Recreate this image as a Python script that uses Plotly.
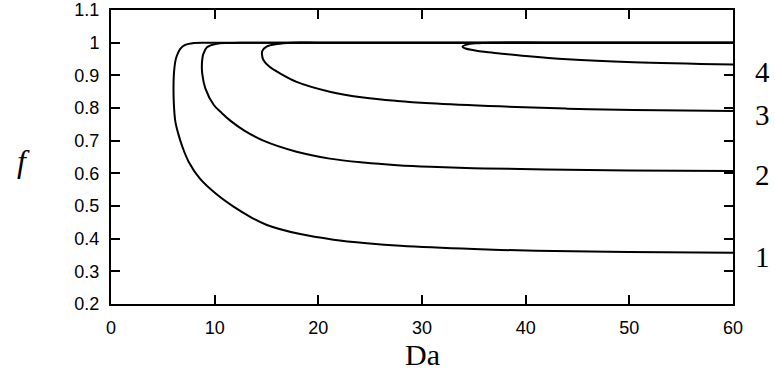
import plotly.graph_objects as go

# Curve 1
da_1 = [60, 50, 40, 30, 20, 14, 11, 9.3, 8.0, 7.16, 6.68, 6.35, 6.2, 6.06, 6.03, 6.06, 6.2, 6.5, 6.9, 7.5, 8.6, 10.22, 11.82, 13.43, 15.04, 18.25, 21.46, 24.68, 27.9, 35, 41, 50, 60]
f_1 = [1.0, 1.0, 1.0, 1.0, 1.0, 1.0, 1.0, 1.0, 0.999, 0.993, 0.981, 0.96, 0.942, 0.9, 0.855, 0.815, 0.76, 0.72, 0.68, 0.635, 0.583, 0.535, 0.498, 0.467, 0.442, 0.414, 0.397, 0.386, 0.378, 0.368, 0.363, 0.3595, 0.357]

# Curve 2
da_2 = [60, 50, 40, 30, 20, 15, 12.5, 11.2, 10.2, 9.26, 8.9, 8.77, 8.8, 9.1, 9.9, 10.7, 11.6, 12.9, 14.7, 17.9, 21.1, 24.35, 27.6, 30.8, 36, 42, 50, 60]
f_2 = [1.0, 1.0, 1.0, 1.0, 1.0, 1.0, 1.0, 0.999, 0.997, 0.986, 0.965, 0.935, 0.905, 0.86, 0.81, 0.784, 0.759, 0.73, 0.70, 0.666, 0.645, 0.633, 0.625, 0.62, 0.615, 0.612, 0.609, 0.607]

# Curve 3
da_3 = [60, 50, 40, 30, 24, 20, 17.5, 16, 15.0, 14.6, 14.56, 14.7, 15.3, 16.3, 17.9, 21.1, 24.35, 27.6, 30.8, 37.5, 44, 50.4, 60]
f_3 = [1.0, 1.0, 1.0, 1.0, 1.0, 1.0, 1.0, 0.996, 0.988, 0.975, 0.965, 0.947, 0.926, 0.906, 0.88, 0.85, 0.832, 0.8215, 0.8145, 0.805, 0.798, 0.794, 0.791]

# Curve 4
da_4 = [60, 50, 42, 37, 35.2, 34.3, 33.9, 34.2, 35, 36, 37.5, 40, 44, 50.4, 60]
f_4 = [1.0, 1.0, 1.0, 1.0, 0.998, 0.994, 0.988, 0.982, 0.977, 0.972, 0.967, 0.959, 0.949, 0.94, 0.933]

curve_labels = ["1", "2", "3", "4"]
label_f = [0.344, 0.594, 0.778, 0.911]

x_ticks = [0, 10, 20, 30, 40, 50, 60]
y_ticks = [0.2, 0.3, 0.4, 0.5, 0.6, 0.7, 0.8, 0.9, 1.0, 1.1]
y_tick_text = ["0.2", "0.3", "0.4", "0.5", "0.6", "0.7", "0.8", "0.9", "1", "1.1"]

fig = go.Figure()
for xs, ys in [(da_1, f_1), (da_2, f_2), (da_3, f_3), (da_4, f_4)]:
    fig.add_trace(go.Scatter(x=xs, y=ys, mode="lines",
                             line=dict(color="black", width=2, shape="spline", smoothing=1.0),
                             showlegend=False, hoverinfo="skip"))

for lab, fy in zip(curve_labels, label_f):
    fig.add_annotation(x=1.047, xref="paper", y=fy, yref="y", text=lab, showarrow=False,
                       xanchor="center", yanchor="middle",
                       font=dict(family="Liberation Serif", size=29, color="black"))

fig.add_annotation(x=-0.14, xref="paper", y=0.637, yref="y", text="<i>f</i>", showarrow=False,
                   xanchor="center", yanchor="middle",
                   font=dict(family="Liberation Serif", size=32, color="black"))
fig.add_annotation(x=0.5, xref="paper", y=-0.171, yref="paper", text="Da", showarrow=False,
                   xanchor="center", yanchor="middle",
                   font=dict(family="Liberation Serif", size=30, color="black"))

axis_common = dict(showgrid=False, zeroline=False, showline=True, linecolor="black", linewidth=2,
                   mirror="ticks", ticks="inside", ticklen=9, tickwidth=1.5, tickcolor="black",
                   automargin=False,
                   tickfont=dict(family="Liberation Sans", size=18, color="black"))

fig.update_xaxes(range=[0, 60], tickvals=x_ticks, ticklabelstandoff=6, **axis_common)
fig.update_yaxes(range=[0.2, 1.1], tickvals=y_ticks, ticktext=y_tick_text, ticklabelstandoff=6, **axis_common)

fig.update_layout(width=775, height=383, margin=dict(l=111, r=42, t=10, b=79, autoexpand=False),
                  plot_bgcolor="white", paper_bgcolor="white")

fig.write_html("out.html", config={"displayModeBar": False},
               post_script="document.body.style.margin='0px';")
